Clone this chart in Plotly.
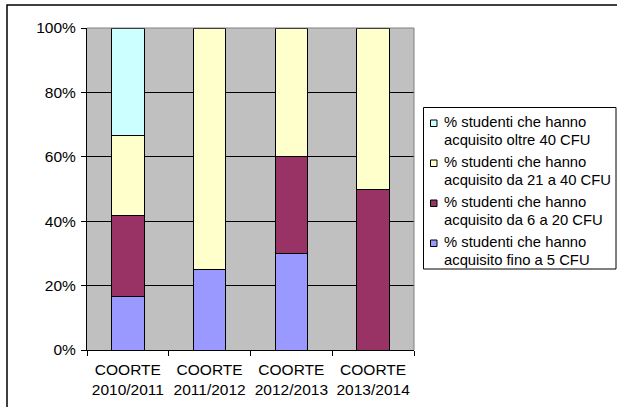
import plotly.graph_objects as go

categories = ["COORTE<br>2010/2011", "COORTE<br>2011/2012", "COORTE<br>2012/2013", "COORTE<br>2013/2014"]
fino_5 = [16.67, 25.0, 30.0, 0.0]
da_6_a_20 = [25.0, 0.0, 30.0, 50.0]
da_21_a_40 = [25.0, 75.0, 40.0, 50.0]
oltre_40 = [33.33, 0.0, 0.0, 0.0]

series_names = [
    "% studenti che hanno<br>acquisito fino a 5 CFU",
    "% studenti che hanno<br>acquisito da 6 a 20 CFU",
    "% studenti che hanno<br>acquisito da 21 a 40 CFU",
    "% studenti che hanno<br>acquisito oltre 40 CFU",
]
series_values = [fino_5, da_6_a_20, da_21_a_40, oltre_40]
series_colors = ["#9999FF", "#993366", "#FFFFCC", "#CCFFFF"]
ytick_vals = [0, 20, 40, 60, 80, 100]
ytick_text = ["0%", "20%", "40%", "60%", "80%", "100%"]

FONT = "Liberation Sans, Arial, sans-serif"
FS = 15.5
LEG_FS = 14.8

fig = go.Figure()
for name, vals, col in zip(series_names, series_values, series_colors):
    fig.add_trace(go.Bar(
        x=categories, y=vals, name=name,
        marker=dict(color=col, line=dict(color="black", width=1)),
    ))

W, H = 617, 407
L, R, T, B = 87, 414, 28, 350
pw, ph = R - L, B - T

def px(x):
    return (x - L) / pw

def py(y):
    return (B - y) / ph

shapes = [
    dict(type="line", xref="paper", yref="paper", x0=0, x1=1, y0=1, y1=1,
         line=dict(color="#808080", width=1)),
    dict(type="line", xref="paper", yref="paper", x0=1, x1=1, y0=0, y1=1,
         line=dict(color="#808080", width=1)),
    dict(type="rect", xref="paper", yref="paper",
         x0=px(7), x1=px(640), y0=py(430), y1=py(5),
         line=dict(color="black", width=1.5), fillcolor="rgba(0,0,0,0)"),
    # legend box
    dict(type="rect", xref="paper", yref="paper",
         x0=px(423.5), x1=px(616), y0=py(269), y1=py(107.5),
         line=dict(color="black", width=1), fillcolor="white"),
]
annotations = []

# legend entries (reversed order, like a stacked-bar legend)
legend_top = 122
pitch = 40
line_gap = 17.5
for i, (name, col) in enumerate(reversed(list(zip(series_names, series_colors)))):
    yc = legend_top + i * pitch
    shapes.append(dict(type="rect", xref="paper", yref="paper",
                       x0=px(430.5), x1=px(437), y0=py(yc + 4.5), y1=py(yc - 2),
                       line=dict(color="black", width=1), fillcolor=col))
    for j, line in enumerate(name.split("<br>")):
        annotations.append(dict(
            xref="paper", yref="paper", x=px(441.5), y=py(yc + j * line_gap),
            xanchor="left", yanchor="middle", showarrow=False, text=line,
            font=dict(family=FONT, size=LEG_FS, color="black"),
        ))

fig.update_layout(
    width=W, height=H,
    margin=dict(l=L, r=W - R, t=T, b=H - B, pad=0, autoexpand=False),
    barmode="stack",
    bargap=0.6,
    paper_bgcolor="white",
    plot_bgcolor="#C0C0C0",
    font=dict(family=FONT, size=FS, color="black"),
    showlegend=False,
    xaxis=dict(
        showline=True, linecolor="black", linewidth=1,
        ticks="outside", tickson="boundaries", ticklen=5, tickcolor="black",
        showgrid=False, tickfont=dict(size=FS), tickangle=0, automargin=False,
        ticklabelstandoff=5,
    ),
    yaxis=dict(
        range=[0, 100], tickvals=ytick_vals, ticktext=ytick_text,
        showline=True, linecolor="black", linewidth=1,
        ticks="outside", ticklen=5, tickcolor="black",
        showgrid=True, gridcolor="black", gridwidth=1,
        tickfont=dict(size=FS), zeroline=False, automargin=False,
        ticklabelstandoff=2,
    ),
    shapes=shapes,
    annotations=annotations,
)

fig.write_html("out.html")
